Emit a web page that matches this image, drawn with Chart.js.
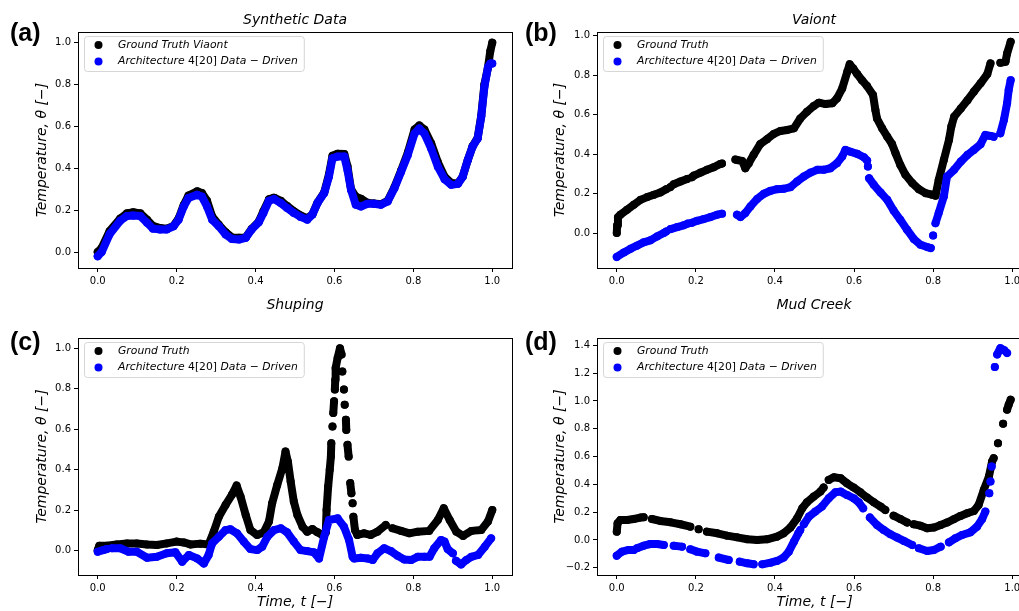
<!DOCTYPE html>
<html lang="en">
<head>
<meta charset="UTF-8">
<title>Temperature fits</title>
<script src="https://cdn.jsdelivr.net/npm/chart.js"></script>
<style>
    html, body { margin: 0; padding: 0; width: 1019px; height: 611px; overflow: hidden; background: #fff; }
    .panel { position: absolute; }
    .title { position: absolute; width: 300px; text-align: center; font: italic 14px "DejaVu Sans", sans-serif; line-height: 18px; color: #000; }
    .tag { position: absolute; font: bold 25px "Liberation Sans", Arial, sans-serif; line-height: 28px; color: #000; }
</style>
</head>
<body>
<div class="panel" style="left:0;top:0"><canvas id="chartA" width="520" height="300"></canvas></div>
<div class="panel" style="left:520px;top:0"><canvas id="chartB" width="520" height="300"></canvas></div>
<div class="panel" style="left:0;top:295px"><canvas id="chartC" width="520" height="316"></canvas></div>
<div class="panel" style="left:520px;top:295px"><canvas id="chartD" width="520" height="316"></canvas></div>

<div class="title" style="left:145px;top:10px">Synthetic Data</div>
<div class="title" style="left:664px;top:10px">Vaiont</div>
<div class="title" style="left:145px;top:295px">Shuping</div>
<div class="title" style="left:664px;top:295px">Mud Creek</div>
<div class="tag" style="left:10px;top:18px">(a)</div>
<div class="tag" style="left:525px;top:18px">(b)</div>
<div class="tag" style="left:10px;top:327px">(c)</div>
<div class="tag" style="left:525px;top:327px">(d)</div>

<script>
// ticks
const xTicks = [0, 0.2, 0.4, 0.6, 0.8, 1.0];
const yTicksUnit = [0, 0.2, 0.4, 0.6, 0.8, 1.0];
const yTicksMud = [-0.2, 0, 0.2, 0.4, 0.6, 0.8, 1.0, 1.2, 1.4];

const truthLabel = 'Ground Truth';
const modelLabel = 'Architecture 4[20] Data \u2212 Driven';

// (a) synthetic data
const aX = [0, 0.01, 0.03, 0.057, 0.074, 0.09, 0.108, 0.125, 0.14, 0.158, 0.175, 0.192, 0.205, 0.218, 0.23, 0.252, 0.264, 0.277, 0.29, 0.307,
    0.324, 0.34, 0.358, 0.375, 0.39, 0.408, 0.42, 0.434, 0.447, 0.464, 0.48, 0.497, 0.514, 0.531, 0.544, 0.557, 0.574, 0.586, 0.595, 0.608,
    0.625, 0.633, 0.642, 0.654, 0.667, 0.684, 0.70, 0.718, 0.735, 0.752, 0.769, 0.786, 0.803, 0.815, 0.828, 0.845, 0.862, 0.879, 0.896, 0.913,
    0.925, 0.938, 0.95, 0.963, 0.972, 0.98, 0.989, 0.995, 1.0];
const aTruth = [0.0, 0.02, 0.1, 0.16, 0.185, 0.19, 0.185, 0.155, 0.125, 0.115, 0.112, 0.125, 0.16, 0.225, 0.27, 0.29, 0.282, 0.245, 0.17, 0.13,
    0.095, 0.07, 0.068, 0.07, 0.11, 0.145, 0.195, 0.252, 0.26, 0.245, 0.22, 0.195, 0.175, 0.162, 0.18, 0.236, 0.285, 0.37, 0.46, 0.47,
    0.468, 0.41, 0.3, 0.265, 0.255, 0.235, 0.232, 0.228, 0.245, 0.31, 0.39, 0.475, 0.585, 0.605, 0.585, 0.52, 0.43, 0.36, 0.33, 0.328,
    0.36, 0.44, 0.505, 0.545, 0.65, 0.80, 0.88, 0.96, 1.0];
const aModel = [-0.02, 0.0, 0.085, 0.15, 0.172, 0.175, 0.172, 0.14, 0.112, 0.108, 0.108, 0.123, 0.155, 0.218, 0.258, 0.274, 0.265, 0.218, 0.155, 0.123,
    0.084, 0.063, 0.06, 0.068, 0.108, 0.142, 0.187, 0.245, 0.253, 0.234, 0.21, 0.187, 0.168, 0.155, 0.179, 0.234, 0.282, 0.36, 0.448, 0.456,
    0.456, 0.392, 0.297, 0.226, 0.218, 0.231, 0.231, 0.226, 0.242, 0.305, 0.384, 0.464, 0.566, 0.59, 0.566, 0.495, 0.408, 0.348, 0.321, 0.326,
    0.36, 0.44, 0.503, 0.543, 0.646, 0.788, 0.883, 0.9, 0.9];

// (b) Vaiont
const bTruthX = [0, 0.001, 0.003, 0.009, 0.026, 0.043, 0.06, 0.077, 0.094, 0.11, 0.125, 0.13, 0.135, 0.144, 0.161, 0.178, 0.185, 0.19, 0.195, 0.212,
    0.228, 0.245, 0.262, 0.266, 0.285, 0.30, 0.304, 0.317, 0.325, 0.334, 0.346, 0.363, 0.38, 0.397, 0.414, 0.431, 0.448, 0.464, 0.481, 0.498,
    0.511, 0.528, 0.545, 0.557, 0.57, 0.583, 0.589, 0.598, 0.608, 0.62, 0.633, 0.648, 0.654, 0.658, 0.671, 0.684, 0.696, 0.705, 0.717, 0.73,
    0.747, 0.764, 0.781, 0.798, 0.806, 0.814, 0.827, 0.84, 0.846, 0.853, 0.87, 0.887, 0.903, 0.92, 0.937, 0.945, 0.96, 0.97, 0.983, 0.987, 0.996];
const bTruthY = [0.0, 0.04, 0.08, 0.093, 0.118, 0.143, 0.168, 0.182, 0.194, 0.205, 0.222, null, 0.232, 0.247, 0.261, 0.274, null, 0.283, 0.291, 0.306,
    0.32, 0.333, 0.35, 0.352, null, 0.372, 0.37, 0.365, 0.328, 0.354, 0.396, 0.451, 0.475, 0.502, 0.517, 0.522, 0.53, 0.58, 0.614, 0.643,
    0.66, 0.653, 0.657, 0.682, 0.732, 0.817, 0.855, 0.833, 0.805, 0.774, 0.744, 0.699, 0.623, 0.58, 0.53, 0.488, 0.451, 0.404, 0.345, 0.295,
    0.253, 0.222, 0.202, 0.194, 0.189, 0.269, 0.37, 0.471, 0.539, 0.589, 0.631, 0.673, 0.716, 0.758, 0.805, 0.859, null, 0.862, 0.867, 0.909, 0.968];
const bModelX = [0, 0.018, 0.035, 0.051, 0.068, 0.085, 0.102, 0.119, 0.125, 0.13, 0.136, 0.153, 0.169, 0.18, 0.185, 0.19, 0.203, 0.22, 0.237, 0.254,
    0.266, 0.285, 0.304, 0.313, 0.325, 0.338, 0.355, 0.372, 0.389, 0.405, 0.422, 0.439, 0.456, 0.473, 0.49, 0.507, 0.523, 0.54, 0.557, 0.57,
    0.578, 0.591, 0.608, 0.625, 0.633, 0.634, 0.635, 0.636, 0.638, 0.65, 0.667, 0.684, 0.70, 0.717, 0.734, 0.751, 0.768, 0.785, 0.794, 0.797,
    0.8, 0.803, 0.806, 0.814, 0.827, 0.835, 0.853, 0.87, 0.887, 0.903, 0.92, 0.932, 0.945, 0.953, 0.96, 0.97, 0.979, 0.987, 0.991, 0.996];
const bModelY = [-0.121, -0.098, -0.079, -0.064, -0.047, -0.037, -0.017, 0.0, 0.008, null, 0.02, 0.03, 0.039, 0.048, null, 0.052, 0.062, 0.071, 0.081, 0.093,
    0.098, null, 0.093, 0.081, 0.101, 0.135, 0.173, 0.199, 0.214, 0.222, 0.224, 0.232, 0.261, 0.286, 0.306, 0.32, 0.32, 0.328, 0.354, 0.387,
    0.421, 0.412, 0.401, 0.384, 0.367, null, 0.337, null, 0.278, 0.244, 0.205, 0.168, 0.114, 0.067, 0.017, -0.03, -0.059, -0.071, -0.076, null,
    -0.013, null, 0.05, 0.101, 0.185, 0.286, 0.32, 0.362, 0.396, 0.421, 0.45, 0.497, 0.492, 0.488, null, 0.505, 0.572, 0.657, 0.724, 0.774];

// (c) Shuping
const cTruthX = [0, 0.004, 0.023, 0.048, 0.074, 0.099, 0.125, 0.15, 0.175, 0.2, 0.218, 0.235, 0.26, 0.281, 0.294, 0.307, 0.324, 0.34, 0.352, 0.362,
    0.375, 0.387, 0.404, 0.421, 0.434, 0.442, 0.455, 0.468, 0.476, 0.482, 0.489, 0.497, 0.506, 0.519, 0.531, 0.544, 0.557, 0.569, 0.578, 0.58,
    0.584, 0.588, 0.591, 0.592, 0.593, 0.595, 0.596, 0.597, 0.599, 0.6, 0.601, 0.602, 0.603, 0.608, 0.614, 0.618, 0.619, 0.62, 0.622, 0.624,
    0.625, 0.626, 0.627, 0.629, 0.63, 0.632, 0.633, 0.636, 0.638, 0.64, 0.643, 0.645, 0.646, 0.647, 0.648, 0.652, 0.658, 0.675, 0.692, 0.709,
    0.73, 0.738, 0.747, 0.769, 0.79, 0.811, 0.84, 0.862, 0.877, 0.892, 0.909, 0.926, 0.947, 0.972, 0.989, 1.0];
const cTruthY = [0.003, 0.025, 0.025, 0.031, 0.036, 0.036, 0.031, 0.028, 0.036, 0.045, 0.041, 0.031, 0.035, 0.031, 0.094, 0.168, 0.226, 0.276, 0.322, 0.267,
    0.177, 0.102, 0.078, 0.091, 0.144, 0.234, 0.325, 0.408, 0.49, 0.44, 0.342, 0.243, 0.177, 0.119, 0.094, 0.107, 0.091, 0.078, 0.09, 0.201,
    0.317, 0.40, 0.465, 0.531, null, 0.614, null, 0.68, 0.738, null, 0.796, 0.845, 0.903, 0.952, 1.0, 0.969, null, 0.886, null, 0.796,
    null, 0.721, null, 0.647, 0.597, null, 0.523, 0.465, null, 0.334, 0.284, null, 0.235, null, 0.168, 0.102, 0.078, 0.086, 0.078, 0.094,
    0.127, null, 0.111, 0.098, 0.086, 0.094, 0.098, 0.152, 0.21, 0.152, 0.094, 0.073, 0.098, 0.102, 0.144, 0.201];
const cModelX = [0, 0.014, 0.023, 0.03, 0.036, 0.057, 0.078, 0.099, 0.125, 0.15, 0.175, 0.197, 0.214, 0.231, 0.252, 0.269, 0.281, 0.29, 0.307, 0.324,
    0.336, 0.353, 0.37, 0.387, 0.404, 0.417, 0.43, 0.447, 0.464, 0.48, 0.497, 0.514, 0.531, 0.548, 0.561, 0.574, 0.586, 0.608, 0.624, 0.637,
    0.646, 0.65, 0.667, 0.684, 0.697, 0.709, 0.726, 0.743, 0.76, 0.777, 0.794, 0.811, 0.828, 0.841, 0.853, 0.87, 0.879, 0.887, 0.9, 0.904,
    0.908, 0.921, 0.934, 0.947, 0.964, 0.981, 0.997];
const cModelY = [-0.005, 0.003, 0.008, null, 0.012, 0.012, -0.005, -0.005, -0.035, -0.03, -0.013, -0.008, -0.054, -0.021, -0.038, -0.063, -0.021, 0.036, 0.069, 0.102,
    0.106, 0.086, 0.045, 0.008, 0.003, 0.02, 0.069, 0.102, 0.111, 0.091, 0.045, 0.003, -0.002, -0.008, -0.038, 0.069, 0.152, 0.16, 0.119, 0.053,
    -0.03, -0.038, -0.035, -0.038, -0.046, -0.013, 0.012, -0.002, -0.025, -0.043, -0.046, -0.03, -0.03, -0.03, 0.012, 0.053, 0.045, 0.008, -0.013, null,
    -0.05, -0.068, -0.046, -0.03, -0.021, 0.02, 0.061];

// (d) Mud Creek
const dTruthX = [0, 0.002, 0.009, 0.026, 0.043, 0.06, 0.068, 0.078, 0.089, 0.11, 0.136, 0.161, 0.186, 0.196, 0.207, 0.217, 0.228, 0.254, 0.279, 0.304,
    0.33, 0.355, 0.38, 0.405, 0.422, 0.439, 0.456, 0.469, 0.481, 0.498, 0.515, 0.523, 0.53, 0.536, 0.549, 0.566, 0.582, 0.599, 0.616, 0.633,
    0.65, 0.667, 0.679, 0.69, 0.70, 0.717, 0.734, 0.742, 0.751, 0.768, 0.785, 0.802, 0.819, 0.835, 0.852, 0.869, 0.886, 0.903, 0.915, 0.928,
    0.941, 0.949, 0.953, 0.958, 0.964, 0.97, 0.977, 0.982, 0.987, 0.991, 0.996];
const dTruthY = [0.06, 0.12, 0.144, 0.144, 0.151, 0.161, 0.163, null, 0.151, 0.137, 0.127, 0.113, 0.096, null, 0.077, null, 0.06, 0.048, 0.031, 0.019,
    0.005, 0.0, 0.005, 0.024, 0.048, 0.089, 0.156, 0.228, 0.271, 0.312, 0.348, 0.377, null, 0.432, 0.451, 0.444, 0.408, 0.377, 0.343, 0.305,
    0.271, 0.24, 0.216, null, 0.175, 0.151, 0.125, null, 0.113, 0.103, 0.084, 0.089, 0.108, 0.125, 0.149, 0.173, 0.192, 0.209, 0.252, 0.36,
    0.456, 0.564, 0.588, null, 0.696, null, 0.836, null, 0.937, 0.973, 1.009];
const dModelX = [0, 0.013, 0.03, 0.043, 0.047, 0.051, 0.068, 0.085, 0.102, 0.119, 0.13, 0.144, 0.165, 0.175, 0.186, 0.203, 0.224, 0.24, 0.258, 0.283,
    0.297, 0.311, 0.33, 0.346, 0.357, 0.368, 0.389, 0.405, 0.422, 0.435, 0.448, 0.459, 0.464, 0.468, 0.473, 0.486, 0.502, 0.519, 0.536, 0.553,
    0.566, 0.582, 0.599, 0.612, 0.623, 0.63, 0.64, 0.658, 0.675, 0.692, 0.709, 0.726, 0.747, 0.755, 0.764, 0.785, 0.802, 0.819, 0.83, 0.84,
    0.856, 0.873, 0.894, 0.911, 0.924, 0.932, 0.937, 0.942, 0.944, 0.945, 0.946, 0.948, 0.952, 0.956, 0.958, 0.962, 0.97, 0.98, 0.987];
const dModelY = [-0.113, -0.084, -0.072, -0.072, null, -0.06, -0.041, -0.029, -0.029, -0.036, null, -0.041, -0.048, null, -0.067, -0.084, -0.096, null, -0.127, -0.144,
    null, -0.156, -0.168, -0.175, null, -0.175, -0.163, -0.151, -0.127, -0.084, -0.012, 0.048, 0.072, null, 0.113, 0.168, 0.204, 0.24, 0.3, 0.343,
    0.348, 0.324, 0.3, 0.271, 0.228, null, 0.161, 0.108, 0.072, 0.041, 0.017, -0.007, -0.036, null, -0.06, -0.079, -0.072, -0.048, null, -0.017,
    0.012, 0.036, 0.055, 0.096, 0.151, 0.204, null, 0.336, null, 0.42, null, 0.528, null, 1.244, null, 1.335, 1.38, 1.365, 1.345];

Chart.defaults.font.family = "'DejaVu Sans', sans-serif";
Chart.defaults.color = '#000';

function pts(xs, ys) {
    return xs.map((x, i) => ({ x: x, y: ys[i] }));
}

function series(label, xs, ys, color, order) {
    return {
        label: label,
        data: pts(xs, ys),
        borderColor: color,
        backgroundColor: color,
        borderWidth: 8,
        borderCapStyle: 'round',
        borderJoinStyle: 'round',
        pointRadius: 4,
        pointHoverRadius: 4,
        pointBorderWidth: 0,
        tension: 0,
        spanGaps: false,
        order: order
    };
}

function fmt(v) {
    const s = Math.abs(v).toFixed(1);
    return (v < -1e-9 ? '\u2212' : '') + s;
}

// box around the axes + matplotlib style legend
const framePlugin = {
    id: 'frameLegend',
    afterDatasetsDraw(chart) {
        const a = chart.chartArea;
        const ctx = chart.ctx;
        ctx.save();
        ctx.strokeStyle = '#000';
        ctx.lineWidth = 1;
        ctx.strokeRect(Math.round(a.left) + 0.5, Math.round(a.top) + 0.5, Math.round(a.right - a.left), Math.round(a.bottom - a.top));

        const italic = 'italic 10.8px "DejaVu Sans"';
        const upright = '10.8px "DejaVu Sans"';
        const parts = chart.data.datasets.map(ds => ds.label.split(/(\d+\[\d+\])/));
        let textW = 0;
        parts.forEach(p => {
            let w = 0;
            p.forEach((s, i) => { ctx.font = i % 2 ? upright : italic; w += ctx.measureText(s).width; });
            textW = Math.max(textW, w);
        });
        const bx = a.left + 6, by = a.top + 4;
        const bw = 34 + textW + 6, bh = 35;
        ctx.beginPath();
        ctx.roundRect(bx + 0.5, by + 0.5, bw, bh, 3);
        ctx.fillStyle = 'rgba(255,255,255,0.8)';
        ctx.fill();
        ctx.strokeStyle = 'rgba(204,204,204,0.8)';
        ctx.stroke();

        chart.data.datasets.forEach((ds, k) => {
            const y = by + 9 + k * 16.5;
            ctx.beginPath();
            ctx.arc(bx + 14.5, y, 4, 0, Math.PI * 2);
            ctx.fillStyle = ds.backgroundColor;
            ctx.fill();
            let x = bx + 34;
            ctx.fillStyle = '#000';
            ctx.textBaseline = 'middle';
            parts[k].forEach((s, i) => {
                ctx.font = i % 2 ? upright : italic;
                ctx.fillText(s, x, y);
                x += ctx.measureText(s).width;
            });
        });
        ctx.restore();
    }
};

function makeChart(id, datasets, yMin, yMax, yTicks, cfg) {
    const tickGrid = { drawOnChartArea: false, drawTicks: true, tickLength: 4, color: '#000', lineWidth: 1 };
    return new Chart(document.getElementById(id), {
        type: 'line',
        data: { datasets: datasets },
        options: {
            responsive: false,
            animation: false,
            events: [],
            devicePixelRatio: 1,
            layout: { padding: { left: 0, right: 8, top: cfg.top, bottom: 0 } },
            plugins: { legend: { display: false }, tooltip: { enabled: false } },
            scales: {
                x: {
                    type: 'linear',
                    min: -0.05,
                    max: 1.05,
                    afterBuildTicks: s => { s.ticks = xTicks.map(v => ({ value: v })); },
                    afterFit: s => { s.height = cfg.xh; },
                    grid: tickGrid,
                    border: { display: false },
                    ticks: { padding: 3, font: { size: 10 }, maxRotation: 0, autoSkip: false, callback: fmt },
                    title: {
                        display: !!cfg.xTitle,
                        text: cfg.xTitle || '',
                        font: { size: 14, style: 'italic' },
                        padding: { top: 0, bottom: 0.6 }
                    }
                },
                y: {
                    type: 'linear',
                    min: yMin,
                    max: yMax,
                    afterBuildTicks: s => { s.ticks = yTicks.map(v => ({ value: v })); },
                    afterFit: s => { s.width = cfg.yw; },
                    grid: tickGrid,
                    border: { display: false },
                    ticks: { padding: 3, font: { size: 10 }, autoSkip: false, callback: fmt },
                    title: {
                        display: true,
                        text: 'Temperature, \u03b8 [\u2212]',
                        font: { size: 14, style: 'italic' },
                        padding: { top: cfg.yPad, bottom: 0 }
                    }
                }
            }
        },
        plugins: [framePlugin]
    });
}

makeChart('chartA', [
    series('Ground Truth Viaont', aX, aTruth, '#000000', 1),
    series(modelLabel, aX, aModel, '#0000ff', 0)
], -0.076, 1.051, yTicksUnit, { top: 32, xh: 32, yw: 78, yPad: 34 });

makeChart('chartB', [
    series(truthLabel, bTruthX, bTruthY, '#000000', 1),
    series(modelLabel, bModelX, bModelY, '#0000ff', 0)
], -0.177, 1.018, yTicksUnit, { top: 32, xh: 32, yw: 77, yPad: 32 });

makeChart('chartC', [
    series(truthLabel, cTruthX, cTruthY, '#000000', 1),
    series(modelLabel, cModelX, cModelY, '#0000ff', 0)
], -0.12, 1.051, yTicksUnit, { top: 43, xh: 36, yw: 78, yPad: 34, xTitle: 'Time, t [\u2212]' });

makeChart('chartD', [
    series(truthLabel, dTruthX, dTruthY, '#000000', 1),
    series(modelLabel, dModelX, dModelY, '#0000ff', 0)
], -0.252, 1.453, yTicksMud, { top: 43, xh: 36, yw: 77, yPad: 32, xTitle: 'Time, t [\u2212]' });
</script>
</body>
</html>
